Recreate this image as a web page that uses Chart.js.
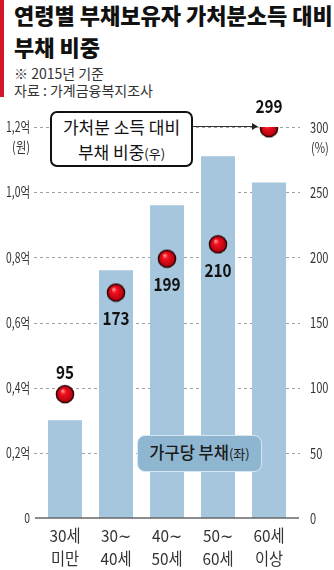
<!DOCTYPE html>
<html>
<head>
<meta charset="utf-8">
<script src="https://cdn.jsdelivr.net/npm/chart.js@4.4.0/dist/chart.umd.min.js"></script>
<style>
  html, body { margin: 0; padding: 0; background: #fff; }
  #wrap { position: relative; width: 334px; height: 570px; overflow: hidden; font-family: 'Noto Sans CJK KR', sans-serif; }
  #redbar { position: absolute; left: 0; top: 0; width: 4px; height: 97px; background: #d3172b; }
  #title { position: absolute; left: 14px; top: -2px; font-size: 22px; font-weight: 900; line-height: 32px; color: #111; white-space: nowrap; }
  .sub { position: absolute; left: 14px; font-size: 14px; line-height: 17px; color: #333; white-space: nowrap; }
  #chartBox { position: absolute; left: 0; top: 0; width: 334px; height: 570px; }
  #box1 { position: absolute; left: 50px; top: 111px; width: 143px; height: 56px; box-sizing: border-box; border: 2px solid #111; border-radius: 7px; background: #fff; text-align: center; font-size: 17px; line-height: 25px; padding-top: 1px; color: #111; white-space: nowrap; }
  #box2 { position: absolute; left: 137px; top: 435px; width: 125px; height: 37px; box-sizing: border-box; border: 1.5px solid #d6e6f0; border-radius: 8px; background: #8fb6d0; text-align: center; font-size: 16.5px; line-height: 33px; color: #1a1a1a; font-weight: 500; white-space: nowrap; }
  .sm { font-size: 13px; font-weight: 400; }
</style>
</head>
<body>
<div id="wrap">
  <div id="redbar"></div>
  <div id="title">연령별 부채보유자 가처분소득 대비<br>부채 비중</div>
  <div class="sub" style="top:65px">※ 2015년 기준</div>
  <div class="sub" style="top:82px">자료 : 가계금융복지조사</div>
  <div id="chartBox"><canvas id="chart"></canvas></div>
  <div id="box1">가처분 소득 대비<br>부채 비중<span class="sm">(우)</span></div>
  <div id="box2">가구당 부채<span class="sm">(좌)</span></div>
</div>
<script>
const ageGroups = [["30세", "미만"], ["30∼", "40세"], ["40∼", "50세"], ["50∼", "60세"], ["60세", "이상"]];
const debtPerHousehold = [0.30, 0.76, 0.96, 1.11, 1.03];   // 억원 (left)
const debtToIncome = [95, 173, 199, 210, 299];             // % (right)
const labelSide = ["up", "down", "down", "down", "up"];

const FONT = "'Noto Sans CJK KR', sans-serif";

// text squeezed horizontally, to get the narrow newspaper look
function squeezed(ctx, text, x, y, align, sx) {
  ctx.save();
  ctx.translate(x, y);
  ctx.scale(sx, 1);
  ctx.textAlign = align;
  ctx.fillText(text, 0, 0);
  ctx.restore();
}

// glossy red dot used as point style
function makeDot() {
  const c = document.createElement("canvas");
  c.width = 20; c.height = 20;
  const g = c.getContext("2d");
  g.beginPath(); g.arc(10, 10, 9.3, 0, Math.PI * 2);
  g.fillStyle = "#2b0505"; g.fill();
  const grad = g.createRadialGradient(7.5, 6.5, 0.5, 10, 10, 8);
  grad.addColorStop(0, "#ff9a9a");
  grad.addColorStop(0.3, "#f3121f");
  grad.addColorStop(1, "#b3000f");
  g.beginPath(); g.arc(10, 10, 7.8, 0, Math.PI * 2);
  g.fillStyle = grad; g.fill();
  return c;
}

const decor = {
  id: "decor",
  beforeDatasetsDraw(chart) {
    const { ctx, scales: { x, y, y1 } } = chart;
    ctx.save();
    // dashed guides
    ctx.strokeStyle = "#a0a0a0";
    ctx.lineWidth = 1;
    ctx.setLineDash([3, 3]);
    y.ticks.forEach(t => {
      if (t.value === 0) return;
      const py = Math.round(y.getPixelForValue(t.value)) + 0.5;
      ctx.beginPath(); ctx.moveTo(34, py); ctx.lineTo(300, py); ctx.stroke();
    });
    ctx.setLineDash([]);

    // tick labels
    ctx.fillStyle = "#333";
    ctx.textBaseline = "middle";
    ctx.font = "14px " + FONT;
    y.ticks.forEach(t => {
      const txt = t.value === 0 ? "0" : t.value.toFixed(1).replace(".", ",") + "억";
      squeezed(ctx, txt, 30, y.getPixelForValue(t.value), "right", 0.74);
    });
    ctx.font = "15px " + FONT;
    y1.ticks.forEach(t => {
      squeezed(ctx, String(t.value), 310, y1.getPixelForValue(t.value), "left", 0.74);
    });
    const top = y.getPixelForValue(1.2);
    ctx.font = "14px " + FONT;
    squeezed(ctx, "(원)", 30, top + 20, "right", 0.8);
    squeezed(ctx, "(%)", 311, top + 21, "left", 0.8);

    ctx.font = "16.5px " + FONT;
    const base = y.getPixelForValue(0);
    ageGroups.forEach((lines, i) => {
      const px = x.getPixelForValue(i);
      squeezed(ctx, lines[0], px, base + 18, "center", 0.93);
      squeezed(ctx, lines[1], px, base + 40.5, "center", 0.93);
    });
    ctx.restore();
  },
  afterDatasetsDraw(chart) {
    const { ctx, scales: { y } } = chart;
    ctx.save();
    // base axis
    const py0 = Math.round(y.getPixelForValue(0));
    ctx.strokeStyle = "#666"; ctx.lineWidth = 1.5;
    ctx.beginPath(); ctx.moveTo(35, py0); ctx.lineTo(299, py0); ctx.stroke();

    // value labels on the dots
    const pts = chart.getDatasetMeta(1).data;
    ctx.fillStyle = "#111";
    ctx.font = "bold 18px " + FONT;
    ctx.textBaseline = "middle";
    pts.forEach((p, i) => {
      const dy = labelSide[i] === "up" ? -22 : 26;
      squeezed(ctx, String(debtToIncome[i]), p.x, p.y + dy, "center", 0.85);
    });

    // arrow from the annotation box to the last dot
    const last = pts[pts.length - 1];
    const ay = Math.round(last.y) - 1.5;
    const tip = last.x - 11;
    ctx.strokeStyle = "#333"; ctx.lineWidth = 1;
    ctx.beginPath(); ctx.moveTo(193, ay); ctx.lineTo(tip - 4, ay); ctx.stroke();
    ctx.fillStyle = "#222";
    ctx.beginPath(); ctx.moveTo(tip, ay); ctx.lineTo(tip - 6, ay - 3.5); ctx.lineTo(tip - 6, ay + 3.5); ctx.closePath(); ctx.fill();
    ctx.restore();
  }
};

new Chart(document.getElementById("chart"), {
  data: {
    labels: ageGroups,
    datasets: [
      {
        type: "bar",
        data: debtPerHousehold,
        yAxisID: "y",
        backgroundColor: "#a5c6dc",
        barPercentage: 0.667,
        categoryPercentage: 1.0,
        order: 2
      },
      {
        type: "line",
        data: debtToIncome,
        yAxisID: "y1",
        showLine: false,
        pointStyle: makeDot(),
        pointRadius: 9,
        order: 1
      }
    ]
  },
  options: {
    responsive: true,
    maintainAspectRatio: false,
    animation: false,
    layout: { padding: { top: 127, left: 0, right: 0, bottom: 0 } },
    plugins: { legend: { display: false }, tooltip: { enabled: false } },
    scales: {
      x: {
        grid: { display: false },
        border: { display: false },
        ticks: { display: false },
        afterFit: s => { s.height = 52; }
      },
      y: {
        position: "left",
        min: 0, max: 1.2,
        grid: { display: false },
        border: { display: false },
        ticks: { stepSize: 0.2, display: false },
        afterFit: s => { s.width = 39.5; }
      },
      y1: {
        position: "right",
        min: 0, max: 300,
        grid: { display: false },
        border: { display: false },
        ticks: { stepSize: 50, display: false },
        afterFit: s => { s.width = 39.5; }
      }
    }
  },
  plugins: [decor]
});
</script>
</body>
</html>
